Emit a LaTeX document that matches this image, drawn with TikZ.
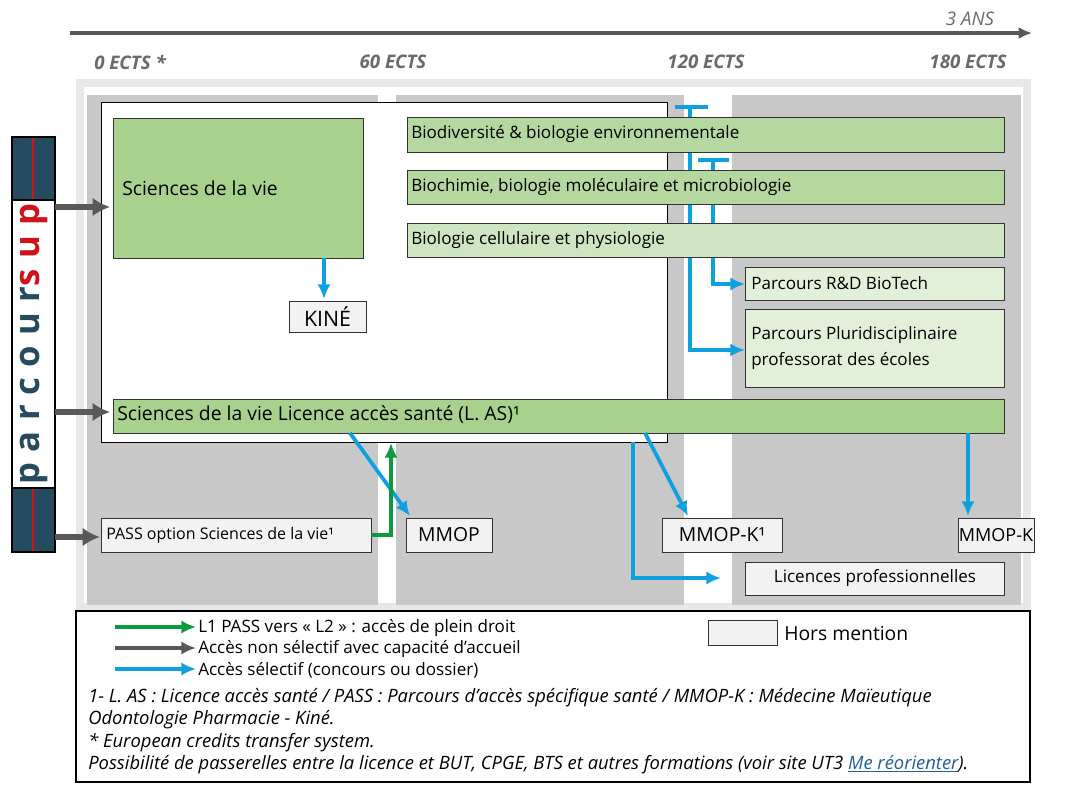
\documentclass[tikz,border=0pt]{standalone}
\usepackage{fontspec}
\setmainfont{Open Sans}
\usetikzlibrary{arrows.meta}
\definecolor{colg}{HTML}{C8C8C8}
\definecolor{gA}{HTML}{A9D18E}
\definecolor{gB}{HTML}{B5D7A0}
\definecolor{gC}{HTML}{CFE5C2}
\definecolor{gD}{HTML}{E2F0D9}
\definecolor{hm}{HTML}{F2F2F2}
\definecolor{bl}{HTML}{0FA0E0}
\definecolor{grn}{HTML}{0C9A3F}
\definecolor{gr}{HTML}{595959}
\definecolor{pnavy}{HTML}{264B5F}
\definecolor{pred}{HTML}{D0121B}
\definecolor{lnk}{HTML}{1F5FA0}
\begin{document}
\begin{tikzpicture}[x=0.75pt,y=-0.75pt,
 box/.style={draw=black!80,line width=0.7pt,inner sep=0pt},
 lab/.style={font=\fontsize{12.8}{14}\selectfont,anchor=west,inner sep=0pt},
 ects/.style={font=\fontsize{14}{16}\selectfont\itshape\bfseries,text=gr!90},
 bA/.style={draw=bl,line width=2.8pt,-{Latex[length=11pt,width=10pt]}},
 gA2/.style={draw=gr,line width=4.5pt,-{Latex[length=13pt,width=14pt]}}]
\useasboundingbox (0,0) rectangle (1068,793);
\fill[white] (0,0) rectangle (1068,793);
% timeline
\draw[gr,line width=2.5pt,-{Latex[length=10pt,width=9pt]}] (70,33) -- (1032,33);
\node[ects,font=\fontsize{14}{16}\selectfont\itshape] (ans) at (970,19) {3 ANS};
\node[ects] (e0) at (130,62) {0 ECTS *};
\node[ects] (e60) at (393,62) {60 ECTS};
\node[ects] (e120) at (706,62) {120 ECTS};
\node[ects] (e180) at (968,62) {180 ECTS};
% frame and columns
\draw[black!9,line width=6pt] (80,83) rectangle (1027,607);
\fill[colg] (87,95) rectangle (378,605);
\fill[colg] (396,95) rectangle (684,605);
\fill[colg] (732,95) rectangle (1021,605);
\draw[fill=white,line width=0.7pt] (101,102) rectangle (667,442);
% blue connectors behind the boxes
\coordinate (t1a) at (675,107); \coordinate (t1b) at (708,107); \coordinate (t1c) at (690,107);
\coordinate (t2a) at (698,160); \coordinate (t2b) at (729,160); \coordinate (t2c) at (713,160);
\draw[bl,line width=2.8pt] (t1a) -- (t1b); \draw[bl,line width=2.8pt] (t2a) -- (t2b);
\draw[bA] (t1c) |- (745,350);
\draw[bA] (t2c) |- (745,284);
% boxes
\draw[box,fill=gA] (113,118) rectangle (363,258);
\node[lab,font=\fontsize{14.5}{16}\selectfont] (sdv) at (122,188) {Sciences de la vie};
\coordinate (sdvb) at (324,258);
\draw[box,fill=hm] (289,301) rectangle (366,332);
\node[font=\fontsize{16}{18}\selectfont] (kine) at (327.5,316.5) {KINÉ};
\draw[bA] (sdvb) -- (324,299);
\draw[box,fill=gB] (407,117) rectangle (1004,152);
\node[lab] (bio1) at (411,134.5) {Biodiversité \& biologie environnementale};
\draw[box,fill=gB] (407,170) rectangle (1004,204);
\node[lab] (bio2) at (411,187) {Biochimie, biologie moléculaire et microbiologie};
\draw[box,fill=gC] (407,223) rectangle (1004,257);
\node[lab] (bio3) at (411,240) {Biologie cellulaire et physiologie};
\draw[box,fill=gD] (745,267) rectangle (1004,300);
\node[lab] (rd) at (751,283.5) {Parcours R\&D BioTech};
\draw[box,fill=gD] (745,309) rectangle (1004,387);
\node[lab,align=left,font=\fontsize{12.8}{19}\selectfont] (pluri) at (751,348) {Parcours Pluridisciplinaire\\professorat des écoles};
\draw[box,fill=gA] (113,399) rectangle (1004,433);
\node[lab,font=\fontsize{14.5}{16}\selectfont] (las) at (117,415) {Sciences de la vie Licence accès santé (L. AS)¹};
\draw[box,fill=hm] (101,518) rectangle (371,552);
\node[lab,font=\fontsize{12}{13}\selectfont] (pass) at (106,535) {PASS option Sciences de la vie¹};
\draw[box,fill=hm] (406,518) rectangle (492,552);
\node[font=\fontsize{14.5}{16}\selectfont] (mmop) at (449,535) {MMOP};
\draw[box,fill=hm] (662,518) rectangle (782,552);
\node[font=\fontsize{14.5}{16}\selectfont] (mmopk1) at (722,535) {MMOP-K¹};
\draw[box,fill=hm] (958,518) rectangle (1034,552);
\node[font=\fontsize{13.5}{16}\selectfont] (mmopk) at (996,535) {MMOP-K};
\draw[box,fill=hm] (745,562) rectangle (1004,595);
\node[font=\fontsize{12.8}{14}\selectfont] (lp) at (875,578.5) {Licences professionnelles};
% other connectors
\draw[bA] (350,433) -- (410,516);
\draw[bA] (645,433) -- (688,516);
\draw[bA] (968,433) -- (968,516);
\draw[bA,line width=3.3pt] (633,442) |- (721,578);
\draw[grn,line width=3.3pt,-{Latex[length=11pt,width=10pt]}] (371,535) -| (391,443);
% parcoursup
\fill[white] (12,137) rectangle (55,552);
\fill[pnavy] (12,137) rectangle (55,200);
\fill[pnavy] (12,488) rectangle (55,552);
\draw[pred,line width=1pt] (33,137) -- (33,200) (33,488) -- (33,552);
\draw[line width=1.5pt] (12,137) rectangle (55,552) (12,200) -- (55,200) (12,488) -- (55,488);
\node[rotate=90,font=\fontsize{26}{28}\selectfont\bfseries] (ps) at (34,344) {\addfontfeatures{LetterSpace=30}\textcolor{pnavy}{parcour}\textcolor{pred}{sup}};
\draw[gA2] (55,207) -- (110,207);
\draw[gA2] (55,412) -- (110,412);
\draw[gA2] (55,537) -- (100,537);
% legend
\draw[line width=0.9pt] (76,611) rectangle (1030,782);
\draw[grn,line width=3.3pt,-{Latex[length=11pt,width=10pt]}] (115,627) -- (196,627);
\draw[gr,line width=3.3pt,-{Latex[length=11pt,width=10pt]}] (115,648) -- (196,648);
\draw[bl,line width=3.3pt,-{Latex[length=11pt,width=10pt]}] (115,669) -- (196,669);
\node[lab] (l1) at (198,628) {L1 PASS vers « L2 » : accès de plein droit};
\node[lab] (l2) at (198,649) {Accès non sélectif avec capacité d’accueil};
\node[lab] (l3) at (198,670) {Accès sélectif (concours ou dossier)};
\draw[box,fill=hm] (708,620) rectangle (777,645);
\node[lab,font=\fontsize{14.5}{16}\selectfont] (hmt) at (784,633) {Hors mention};
\node[lab,align=left,anchor=north west,font=\fontsize{13.8}{16.8}\selectfont\itshape] (fn) at (88,688) {1- L. AS : Licence accès santé / PASS : Parcours d’accès spécifique santé / MMOP-K : Médecine Maïeutique\\Odontologie Pharmacie - Kiné.\\* European credits transfer system.\\Possibilité de passerelles entre la licence et BUT, CPGE, BTS et autres formations (voir site UT3 \textcolor{lnk}{\underline{Me réorienter}}).};
\end{tikzpicture}
\end{document}
